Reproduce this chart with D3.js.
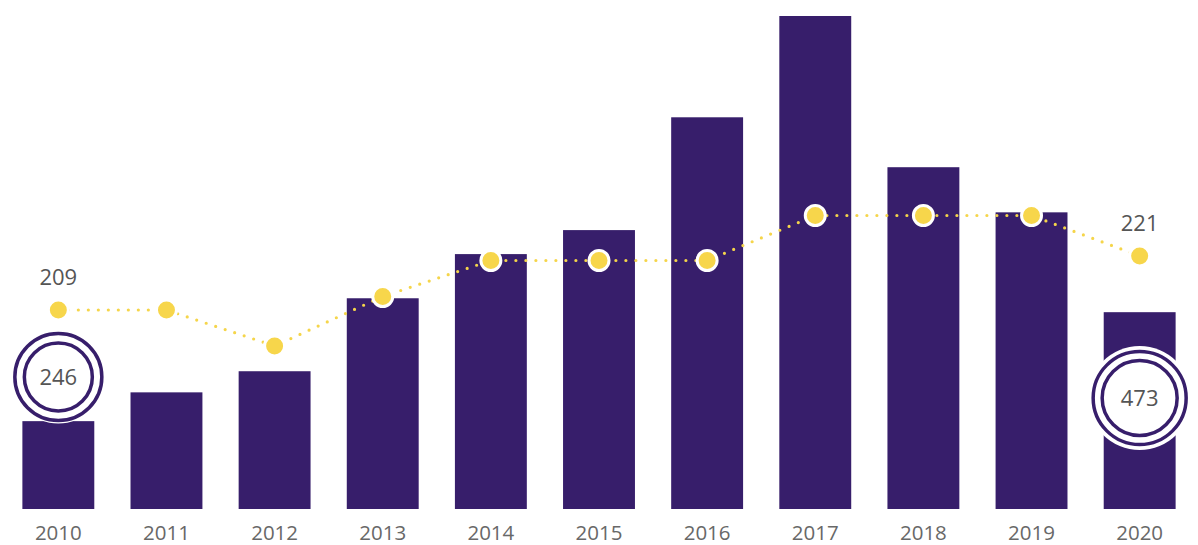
<!DOCTYPE html>
<html lang="en">
<head>
<meta charset="UTF-8">
<title>Chart</title>
<script src="https://cdnjs.cloudflare.com/ajax/libs/d3/7.8.5/d3.min.js"></script>
<style>
  body { margin: 0; background: #fff; }
  .bar { fill: #371e6b; }
  .year { fill: #686868; font-family: "Open Sans", sans-serif; font-size: 20.5px; text-anchor: middle; }
  .num { fill: #555; font-family: "Open Sans", sans-serif; font-size: 22px; text-anchor: middle; }
  .trend { fill: none; stroke: #f5d54a; stroke-width: 3.2; stroke-linecap: round; stroke-dasharray: 0 10; }
  .dot { fill: #f7d64b; stroke: #fff; stroke-width: 3; }
  .ring { fill: none; stroke: #371e6b; stroke-width: 3.5; }
</style>
</head>
<body>
<div id="chart"></div>
<script>
// data
var years = ["2010", "2011", "2012", "2013", "2014", "2015", "2016", "2017", "2018", "2019", "2020"];
var barValues = [246, 306, 350, 502, 594, 644, 879, 1090, 775, 681, 473];
var lineValues = [209, 209, 201, 212, 220, 220, 220, 230, 230, 230, 221];
var barCallouts = [0, 10];   // indexes with ringed labels
var lineCallouts = [0, 10];

var width = 1198, height = 545;

var svg = d3.select('#chart').append('svg')
    .attr('width', width)
    .attr('height', height);

var x = d3.scaleBand()
    .domain(years)
    .range([4, 1194])
    .paddingInner(0.335)
    .paddingOuter(0.17);

var y = d3.scaleLinear()
    .domain([63, 1090])
    .range([509, 16]);

var y2 = d3.scaleLinear()
    .domain([209, 221])
    .range([310, 256]);

var cx = function (d, i) { return x(years[i]) + x.bandwidth() / 2; };

// bars
svg.selectAll('rect.bar')
    .data(barValues)
    .enter()
    .append('rect')
    .attr('class', 'bar')
    .attr('x', function (d, i) { return x(years[i]); })
    .attr('width', x.bandwidth())
    .attr('y', function (d) { return y(d); })
    .attr('height', function (d) { return 509 - y(d); });

// year labels
svg.selectAll('text.year')
    .data(years)
    .enter()
    .append('text')
    .attr('class', 'year')
    .attr('x', function (d) { return x(d) + x.bandwidth() / 2; })
    .attr('y', 540)
    .text(function (d) { return d; });

// dotted trend line
var line = d3.line()
    .x(function (d, i) { return cx(d, i); })
    .y(function (d) { return y2(d); });

svg.append('path')
    .datum(lineValues)
    .attr('class', 'trend')
    .attr('d', line);

svg.selectAll('circle.dot')
    .data(lineValues)
    .enter()
    .append('circle')
    .attr('class', 'dot')
    .attr('cx', cx)
    .attr('cy', function (d) { return y2(d); })
    .attr('r', 10);

svg.selectAll('text.linelabel')
    .data(lineCallouts)
    .enter()
    .append('text')
    .attr('class', 'num')
    .attr('x', function (i) { return cx(null, i); })
    .attr('y', function (i) { return y2(lineValues[i]) - 25; })
    .text(function (i) { return lineValues[i]; });

// ringed bar callouts
var ringSpec = { 0: { cy: 377, r: 45, r2: 35.5, halo: 1.5 }, 10: { cy: 398, r: 48, r2: 39, halo: 4 } };

barCallouts.forEach(function (i) {
    var s = ringSpec[i], g = svg.append('g')
        .attr('transform', 'translate(' + cx(null, i) + ',' + s.cy + ')');
    g.append('circle').attr('r', s.r + s.halo).attr('fill', '#fff');
    g.append('circle').attr('class', 'ring').attr('r', s.r - 1.5);
    g.append('circle').attr('class', 'ring').attr('r', s.r2 - 1.5);
    g.append('text').attr('class', 'num').attr('y', 8).text(barValues[i]);
});
</script>
</body>
</html>
